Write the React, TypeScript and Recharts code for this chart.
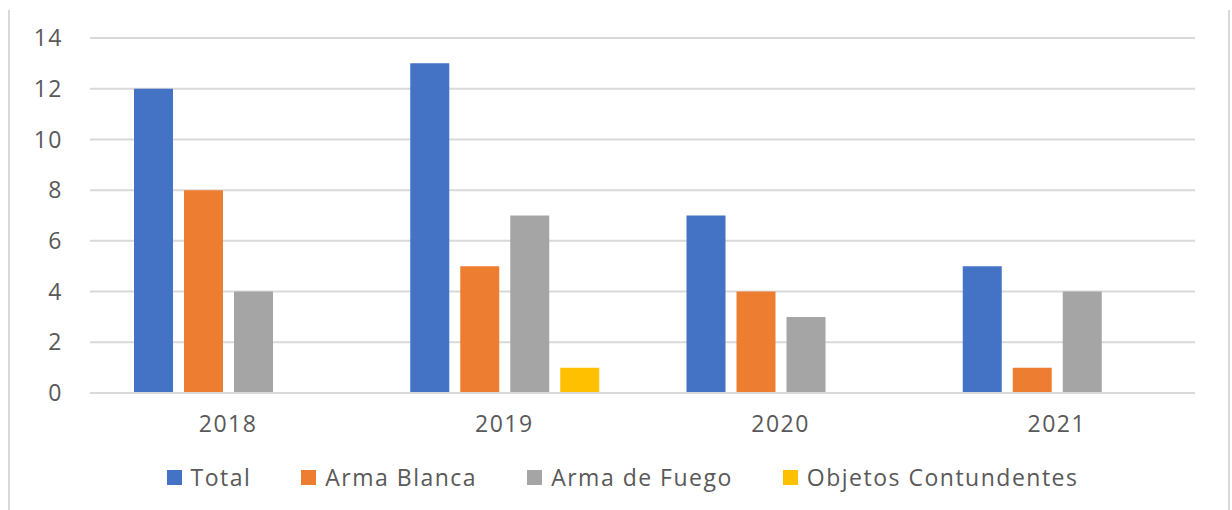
import * as React from 'react';
import { BarChart, Bar, XAxis, YAxis, CartesianGrid, Legend } from 'recharts';

const YEARS = ['2018', '2019', '2020', '2021'];
const TOTAL = [12, 13, 7, 5];
const ARMA_BLANCA = [8, 5, 4, 1];
const ARMA_FUEGO = [4, 7, 3, 4];
const OBJETOS = [0, 1, 0, 0];
const Y_TICKS = [0, 2, 4, 6, 8, 10, 12, 14];

const SERIES = [
  { key: 'total', name: 'Total', color: '#4472C4' },
  { key: 'blanca', name: 'Arma Blanca', color: '#ED7D31' },
  { key: 'fuego', name: 'Arma de Fuego', color: '#A5A5A5' },
  { key: 'objetos', name: 'Objetos Contundentes', color: '#FFC000' },
];

const data = YEARS.map((year, i) => ({
  year,
  total: TOTAL[i],
  blanca: ARMA_BLANCA[i],
  fuego: ARMA_FUEGO[i],
  objetos: OBJETOS[i],
}));

const FONT = '"Open Sans", sans-serif';
const TEXT = '#595959';
const GRID = '#D9D9D9';

function ChartLegend() {
  return (
    <div style={{ display: 'flex', justifyContent: 'center', alignItems: 'center', height: 28, gap: 50, fontFamily: FONT, fontSize: 23, letterSpacing: 1.5, color: TEXT, paddingLeft: 50 }}>
      {SERIES.map((s) => (
        <div key={s.key} style={{ display: 'flex', alignItems: 'center' }}>
          <span style={{ width: 15, height: 15, background: s.color, marginRight: 9, display: 'inline-block' }} />
          <span>{s.name}</span>
        </div>
      ))}
    </div>
  );
}

export default function App() {
  return (
    <div style={{ position: 'absolute', left: 0, top: 0, width: 1232, height: 510, background: '#fff' }}>
      {/* frame edges */}
      <div style={{ position: 'absolute', left: 8, top: 10, width: 2, height: 500, background: GRID }} />
      <div style={{ position: 'absolute', left: 1228, top: 10, width: 2, height: 500, background: GRID }} />
      <BarChart
        width={1232}
        height={510}
        data={data}
        margin={{ top: 38, right: 37, left: 0, bottom: 19 }}
        barGap={11}
        barCategoryGap={44}
      >
        <CartesianGrid vertical={false} stroke={GRID} strokeWidth={2} />
        <XAxis
          dataKey="year"
          height={70}
          tickLine={false}
          tickSize={0}
          tickMargin={23}
          axisLine={{ stroke: GRID, strokeWidth: 2 }}
          tick={{ fill: TEXT, fontSize: 23, fontFamily: FONT, letterSpacing: 1.5 }}
        />
        <YAxis
          width={90}
          domain={[0, 14]}
          ticks={Y_TICKS}
          tickLine={false}
          axisLine={false}
          tickSize={0}
          tickMargin={27}
          tick={{ fill: TEXT, fontSize: 23, fontFamily: FONT, letterSpacing: 1.5 }}
        />
        <Legend verticalAlign="bottom" height={28} content={() => <ChartLegend />} />
        {SERIES.map((s) => (
          <Bar key={s.key} dataKey={s.key} name={s.name} fill={s.color} isAnimationActive={false} />
        ))}
      </BarChart>
    </div>
  );
}
